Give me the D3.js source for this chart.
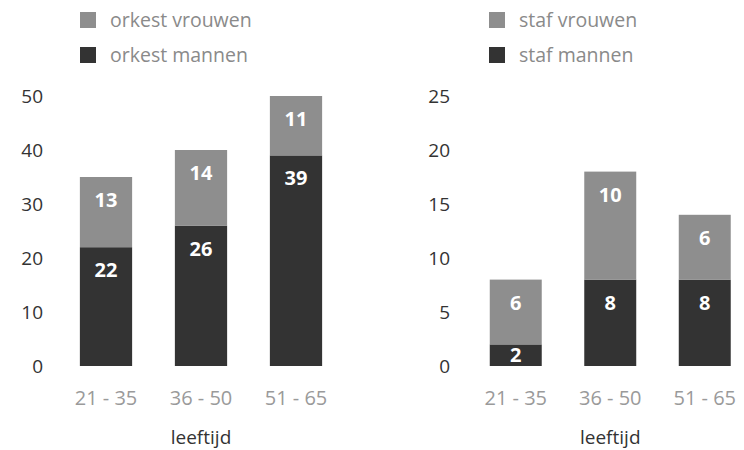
<!DOCTYPE html>
<html>
<head>
<meta charset="utf-8">
<script src="https://cdn.jsdelivr.net/npm/d3@7"></script>
<style>
  body { margin: 0; background: #fff; }
  text { font-family: "Open Sans", "Noto Sans", sans-serif; }
</style>
</head>
<body>
<div id="chart"></div>
<script>
const groups = ["21 - 35", "36 - 50", "51 - 65"];
const orkestMannen = [22, 26, 39];
const orkestVrouwen = [13, 14, 11];
const stafMannen = [2, 8, 8];
const stafVrouwen = [6, 10, 6];
const orkestTicks = [0, 10, 20, 30, 40, 50];
const stafTicks = [0, 5, 10, 15, 20, 25];

const width = 744, height = 450;
const dark = "#333333", light = "#8e8e8e";

const svg = d3.select("#chart").append("svg")
  .attr("width", width).attr("height", height);

function drawPanel(cfg) {
  const g = svg.append("g");
  const x = d3.scaleBand().domain(groups).range(cfg.xRange)
    .paddingInner(0.45).paddingOuter(0.225);
  const y = d3.scaleLinear().domain([0, cfg.max]).range([366, 96]);

  // y axis
  const ax = g.append("g")
    .attr("transform", `translate(${cfg.axisX},0)`)
    .call(d3.axisLeft(y).tickValues(cfg.ticks).tickSize(0).tickPadding(0));
  ax.select(".domain").remove();
  ax.selectAll("text").attr("font-size", 19).attr("fill", "#333")
    .style("font-family", '"Open Sans", sans-serif');

  const rows = groups.map((k, i) => ({ k, m: cfg.men[i], v: cfg.women[i] }));

  // mannen
  g.selectAll(".m").data(rows).enter().append("rect")
    .attr("x", d => x(d.k)).attr("width", x.bandwidth())
    .attr("y", d => y(d.m)).attr("height", d => y(0) - y(d.m))
    .attr("fill", dark);
  // vrouwen
  g.selectAll(".v").data(rows).enter().append("rect")
    .attr("x", d => x(d.k)).attr("width", x.bandwidth())
    .attr("y", d => y(d.m + d.v)).attr("height", d => y(d.m) - y(d.m + d.v))
    .attr("fill", light);

  const lab = (top, h) => top + Math.min(23, h / 2);
  g.selectAll(".lm").data(rows).enter().append("text")
    .attr("x", d => x(d.k) + x.bandwidth() / 2)
    .attr("y", d => lab(y(d.m), y(0) - y(d.m)))
    .attr("dy", "0.35em").attr("text-anchor", "middle")
    .attr("fill", "#fff").attr("font-weight", "bold").attr("font-size", 20)
    .text(d => d.m);
  g.selectAll(".lv").data(rows).enter().append("text")
    .attr("x", d => x(d.k) + x.bandwidth() / 2)
    .attr("y", d => lab(y(d.m + d.v), y(d.m) - y(d.m + d.v)))
    .attr("dy", "0.35em").attr("text-anchor", "middle")
    .attr("fill", "#fff").attr("font-weight", "bold").attr("font-size", 20)
    .text(d => d.v);

  // categories
  g.selectAll(".cat").data(groups).enter().append("text")
    .attr("x", d => x(d) + x.bandwidth() / 2).attr("y", 398)
    .attr("dy", "0.35em").attr("text-anchor", "middle")
    .attr("fill", "#9a9a9a").attr("font-size", 20)
    .text(d => d);

  g.append("text")
    .attr("x", x(groups[1]) + x.bandwidth() / 2).attr("y", 437)
    .attr("dy", "0.35em").attr("text-anchor", "middle")
    .attr("fill", "#333").attr("font-size", 19)
    .text("leeftijd");

  // legend
  const leg = [{ t: cfg.legend[0], c: light }, { t: cfg.legend[1], c: dark }];
  const lg = g.selectAll(".leg").data(leg).enter().append("g")
    .attr("transform", (d, i) => `translate(${cfg.legX},${20 + i * 35})`);
  lg.append("rect").attr("x", 0).attr("y", -8).attr("width", 16).attr("height", 16)
    .attr("fill", d => d.c);
  lg.append("text").attr("x", 30).attr("dy", "0.35em")
    .attr("fill", "#8a8a8a").attr("font-size", 19.5)
    .text(d => d.t);
}

drawPanel({
  xRange: [58.5, 343.5], axisX: 43, max: 50, ticks: orkestTicks,
  men: orkestMannen, women: orkestVrouwen,
  legend: ["orkest vrouwen", "orkest mannen"], legX: 80
});
drawPanel({
  xRange: [468.5, 752], axisX: 450, max: 25, ticks: stafTicks,
  men: stafMannen, women: stafVrouwen,
  legend: ["staf vrouwen", "staf mannen"], legX: 489
});
</script>
</body>
</html>
